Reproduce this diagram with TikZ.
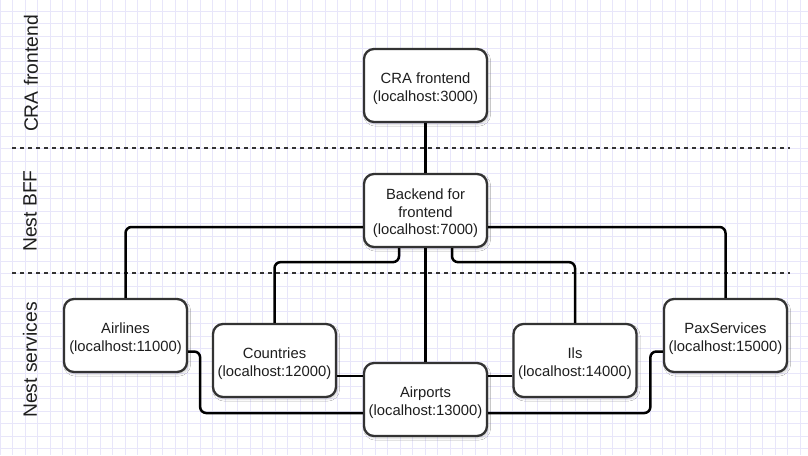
\documentclass[tikz,border=0pt]{standalone}
\usepackage{fontspec}
\setmainfont{Liberation Sans}
\usetikzlibrary{shadows.blur}
\definecolor{gridc}{RGB}{232,230,250}
\definecolor{boxborder}{RGB}{51,51,51}
\definecolor{txt}{RGB}{30,30,30}
\newcommand\topstrut{\rule{0pt}{16.5pt}}
\tikzset{
  svc/.style={rectangle, rounded corners=10pt, draw=boxborder, line width=2.3pt, fill=white,
    minimum width=123pt, minimum height=73pt, align=center, text=txt, inner sep=2pt,
    font=\fontsize{14.8}{17.6}\selectfont,
    blur shadow={shadow xshift=1.5pt, shadow yshift=-2pt, shadow blur steps=6, shadow opacity=18}},
  conn/.style={draw=black, line width=2.5pt, rounded corners=6pt},
  sep/.style={draw=boxborder, line width=1.4pt, dash pattern=on 4pt off 4pt},
  lane/.style={rotate=90, text=txt, font=\fontsize{19.3}{22}\selectfont, inner sep=0pt},
  gridline/.style={draw=gridc, line width=1pt}
}
\begin{document}
\begin{tikzpicture}[x=1pt,y=-1pt]
\fill[white] (0,0) rectangle (808,455);
\useasboundingbox (0,0) rectangle (808,455);
\foreach \i in {0,...,64} \draw[gridline] (\i*12.5,0) -- (\i*12.5,455);
\foreach \j in {0,...,36} \draw[gridline] (0,11+\j*12.5) -- (808,11+\j*12.5);

% swimlane separators
\coordinate (s1a) at (12,148);
\coordinate (s1b) at (790,148);
\coordinate (s2a) at (12,273);
\coordinate (s2b) at (790,273);
\draw[sep] (s1a) -- (s1b);
\draw[sep] (s2a) -- (s2b);

% lane labels
\node[lane] (l1) at (31,73.5) {CRA frontend};
\node[lane] (l2) at (30,211) {Nest BFF};
\node[lane] (l3) at (30,360) {Nest services};

% nodes
\node[svc] (cra) at (425.5,85.5) {\topstrut CRA frontend\\(localhost:3000)};
\node[svc] (bff) at (425.5,210.5) {\topstrut Backend for\\frontend\\(localhost:7000)};
\node[svc] (airlines) at (125.5,335.5) {\topstrut Airlines\\(localhost:11000)};
\node[svc] (countries) at (274.5,360.5) {\topstrut Countries\\(localhost:12000)};
\node[svc] (airports) at (425.5,399.5) {\topstrut Airports\\(localhost:13000)};
\node[svc] (ils) at (575,360.5) {\topstrut Ils\\(localhost:14000)};
\node[svc] (pax) at (725.5,335.5) {\topstrut PaxServices\\(localhost:15000)};

% helper points
\coordinate (bl) at ([yshift=-16.5pt]bff.west);
\coordinate (br) at ([yshift=-16.5pt]bff.east);
\coordinate (bsl) at ([xshift=-26.5pt]bff.south);
\coordinate (bsr) at ([xshift=26.5pt]bff.south);
\coordinate (c1) at ([yshift=-15.5pt]countries.east);
\coordinate (i1) at ([yshift=-15.5pt]ils.west);
\coordinate (a1) at ([yshift=-16pt]airlines.east);
\coordinate (p1) at ([yshift=-16pt]pax.west);
\coordinate (aw) at ([yshift=-13.5pt]airports.west);
\coordinate (ae) at ([yshift=-13.5pt]airports.east);

\draw[conn] (cra.south) -- (bff.north);
\draw[conn] (bl) -| (airlines.north);
\draw[conn] (br) -| (pax.north);
\draw[conn] (bsl) -- ++(0,14) -| (countries.north);
\draw[conn] (bsr) -- ++(0,14) -| (ils.north);
\draw[conn] (bff.south) -- (airports.north);
\draw[conn] (c1) -- (c1 -| airports.west);
\draw[conn] (i1) -- (i1 -| airports.east);
\draw[conn] (a1) -- ++(12,0) |- (aw);
\draw[conn] (p1) -- ++(-12.5,0) |- (ae);
\end{tikzpicture}
\end{document}
